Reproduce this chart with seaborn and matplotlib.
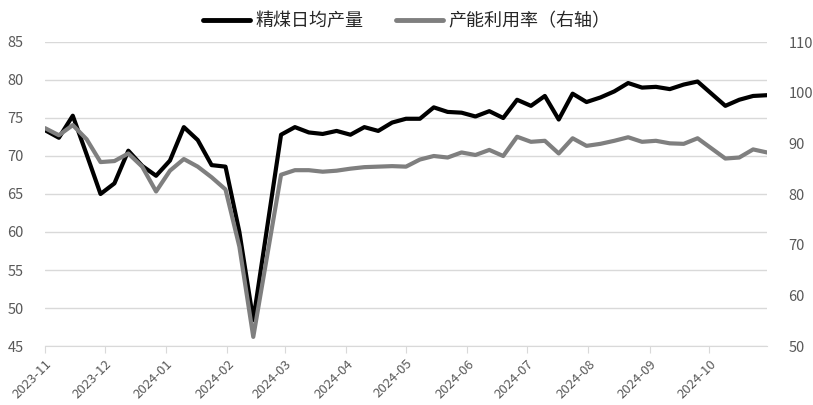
import numpy as np
import pandas as pd
import seaborn as sns
import matplotlib.pyplot as plt
import matplotlib.dates as mdates
from matplotlib.lines import Line2D

sns.set_style("white")
plt.rcParams['font.family'] = ['Noto Sans CJK SC', 'DejaVu Sans']

# weekly data, 2023-11-03 .. 2024-11-01
dates = pd.date_range('2023-11-03', periods=53, freq='7D')
coal_output = [73.4, 72.4, 75.3, 70.2, 65.0, 66.4, 70.7, 68.7, 67.4, 69.4,
               73.8, 72.1, 68.8, 68.6, 60.0, 48.4, 60.6, 72.8, 73.8, 73.1,
               72.9, 73.3, 72.8, 73.8, 73.3, 74.4, 74.9, 74.9, 76.4, 75.8,
               75.7, 75.2, 75.9, 75.0, 77.4, 76.6, 77.9, 74.8, 78.2, 77.1,
               77.7, 78.5, 79.6, 79.0, 79.1, 78.8, 79.4, 79.8, 78.2, 76.6,
               77.4, 77.9, 78.0]
utilization = [93.0, 91.6, 93.6, 90.8, 86.3, 86.5, 88.0, 85.4, 80.5, 84.6,
               86.9, 85.4, 83.3, 80.9, 69.6, 51.8, 67.8, 83.8, 84.7, 84.7,
               84.4, 84.6, 85.0, 85.3, 85.4, 85.5, 85.4, 86.8, 87.5, 87.2,
               88.2, 87.7, 88.7, 87.5, 91.3, 90.3, 90.5, 88.0, 91.0, 89.5,
               89.9, 90.5, 91.2, 90.3, 90.5, 90.0, 89.9, 91.0, 89.0, 87.0,
               87.2, 88.8, 88.2]
name_left = '精煤日均产量'
name_right = '产能利用率（右轴）'

df = pd.DataFrame({'date': dates, 'coal': coal_output, 'util': utilization})

fig = plt.figure(figsize=(8.13, 4.05), dpi=100)
ax = fig.add_axes([45/813, 1-346/405, (767-45)/813, (346-42)/405])
ax2 = ax.twinx()

c_black = '#000000'
c_gray = '#7f7f7f'
tcol = '#595959'

sns.lineplot(data=df, x='date', y='coal', ax=ax, color=c_black, linewidth=3)
sns.lineplot(data=df, x='date', y='util', ax=ax2, color=c_gray, linewidth=3)

ax.set_ylim(45, 85)
ax.set_yticks(np.arange(45, 86, 5))
ax2.set_ylim(50, 110)
ax2.set_yticks(np.arange(50, 111, 10))
ax.set_xlim(dates[0], dates[-1])

ax.yaxis.grid(True, color='#d9d9d9', linewidth=1)
ax.set_axisbelow(True)

ticks = pd.date_range('2023-11-03', periods=12, freq=pd.DateOffset(months=1))
ax.set_xticks(ticks)
ax.xaxis.set_major_formatter(mdates.DateFormatter('%Y-%m'))
for lbl in ax.get_xticklabels():
    lbl.set_rotation(45)
    lbl.set_ha('right')
    lbl.set_rotation_mode('anchor')

for a in (ax, ax2):
    for s in a.spines.values():
        s.set_visible(False)
    a.set_xlabel('')
    a.set_ylabel('')
ax.spines['bottom'].set_visible(True)
ax.spines['bottom'].set_color('#d9d9d9')

ax.tick_params(axis='x', bottom=True, length=5, color='#d9d9d9', labelsize=9.5,
               labelcolor=tcol, pad=3)
ax.tick_params(axis='y', left=False, labelsize=10.5, labelcolor=tcol, pad=12)
ax2.tick_params(axis='y', right=False, labelsize=10.5, labelcolor=tcol, pad=12)

handles = [Line2D([], [], color=c_black, linewidth=3.5),
           Line2D([], [], color=c_gray, linewidth=3.5)]
fig.legend(handles, [name_left, name_right], loc='center', bbox_to_anchor=(0.5, 1-21/405),
           ncol=2, frameon=False, fontsize=13, handlelength=2.6, handletextpad=0.3,
           columnspacing=1.8, labelcolor='#262626')

plt.savefig('out.png', dpi=100)
